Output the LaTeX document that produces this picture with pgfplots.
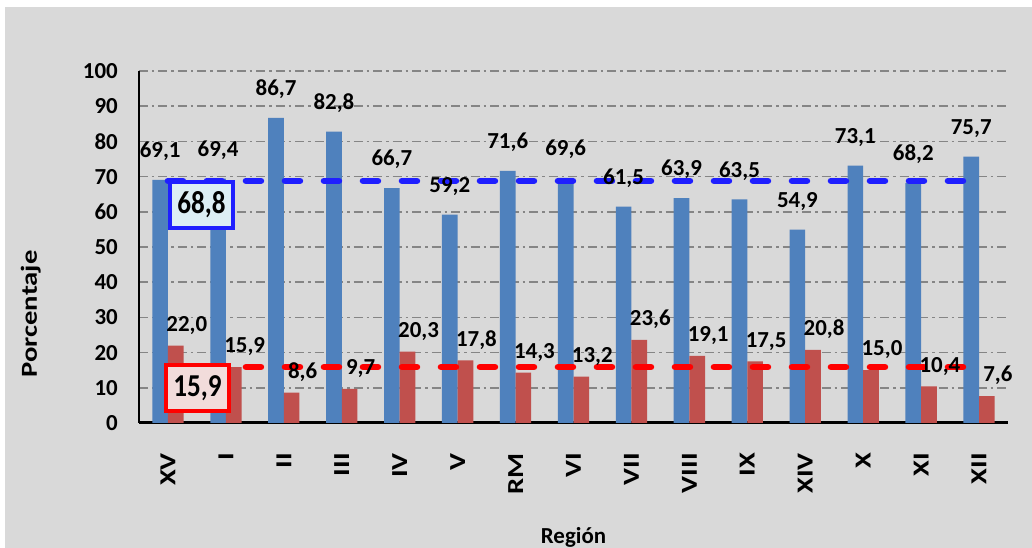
\documentclass[border=0pt]{standalone}
\usepackage{pgfplots}
\pgfplotsset{compat=1.18}
\usepackage{pgfplotstable}
\usepackage{fontspec}
\setmainfont{Carlito}
\newfontfamily\rotfont[FakeStretch=1.25]{Carlito}
\newfontfamily\boxfont[FakeStretch=0.85]{Carlito}
\definecolor{bg}{HTML}{D9D9D9}
\definecolor{barblue}{HTML}{4F81BD}
\definecolor{barred}{HTML}{C0504D}
\definecolor{lineblue}{HTML}{1F1FFF}
\definecolor{linered}{HTML}{FF0000}
\definecolor{boxblue}{HTML}{DCEEF4}
\definecolor{boxred}{HTML}{F2DCDB}
\definecolor{gridgray}{HTML}{858585}

\pgfplotstableread{
x v
0 69.1
1 69.4
2 86.7
3 82.8
4 66.7
5 59.2
6 71.6
7 69.6
8 61.5
9 63.9
10 63.5
11 54.9
12 73.1
13 68.2
14 75.7
}\bluedata

\pgfplotstableread{
x v
0 22.0
1 15.9
2 8.6
3 9.7
4 20.3
5 17.8
6 14.3
7 13.2
8 23.6
9 19.1
10 17.5
11 20.8
12 15.0
13 10.4
14 7.6
}\reddata

\newcommand{\lab}{\fontsize{23}{23}\selectfont\bfseries}

\begin{document}
\begin{tikzpicture}[x=1bp,y=1bp]
\fill[white] (-139,-125) rectangle (893,423);
\useasboundingbox (-139,-125) rectangle (893,423);
\fill[bg] (-134,-125) rectangle (893,416);
\begin{axis}[
  at={(0,0)}, anchor=south west,
  scale only axis, width=869bp, height=352bp,
  ybar, bar width=0.27,
  xmin=-0.5, xmax=14.5, ymin=0, ymax=100,
  ytick={0,10,...,100},
  xtick={0,...,14},
  xticklabels={XV,I,II,III,IV,V,RM,VI,VII,VIII,IX,XIV,X,XI,XII},
  axis x line*=bottom, axis y line*=left,
  x axis line style={black, line width=3bp},
  y axis line style={black, line width=2bp},
  major tick length=0pt,
  ymajorgrids,
  grid style={gridgray, line width=1.6bp, dash pattern=on 9bp off 4bp on 2.5bp off 4bp},
  /pgf/number format/assume math mode=true,
  yticklabel style={font=\lab, inner sep=0pt, xshift=-21bp},
  xticklabel style={font=\rotfont\fontsize{23}{23}\selectfont\bfseries, inner sep=0pt, yshift=-30bp, rotate=90, anchor=east},
  xlabel={Región}, ylabel={Porcentaje},
  every axis x label/.style={at={(axis description cs:0.5,-0.341)}, anchor=base, font=\lab},
  every axis y label/.style={at={(axis description cs:-0.1174,0.31)}, anchor=base, rotate=90, font=\rotfont\fontsize{23}{23}\selectfont\bfseries},
  clip=false,
]
\addplot[fill=barblue, draw=none, bar shift=-0.135] table[x=x,y=v] {\bluedata};
\addplot[fill=barred, draw=none, bar shift=0.135] table[x=x,y=v] {\reddata};
\addplot[sharp plot, lineblue, line width=6.5bp, line cap=round, dash pattern=on 15bp off 24bp, forget plot] coordinates {(0,68.8) (14,68.8)};
\addplot[sharp plot, linered, line width=6.5bp, line cap=round, dash pattern=on 15bp off 24bp, forget plot] coordinates {(0,15.9) (14,15.9)};
\addplot[fill=none, draw=none, bar shift=-0.135, forget plot,
  nodes near coords={\pgfmathprintnumber[fixed,fixed zerofill,precision=1,use comma]{\pgfplotspointmeta}},
  every node near coord/.append style={font=\lab, text=black, inner sep=0pt, anchor=south, yshift=19bp}]
  table[x=x,y=v] {\bluedata};
\addplot[fill=none, draw=none, bar shift=0.135, forget plot,
  nodes near coords={\pgfmathprintnumber[fixed,fixed zerofill,precision=1,use comma]{\pgfplotspointmeta}},
  every node near coord/.append style={font=\lab, text=black, inner sep=0pt, anchor=south, yshift=11bp, xshift=11bp}]
  table[x=x,y=v] {\reddata};
\node[draw=lineblue, line width=3.5bp, fill=boxblue, minimum width=63bp, minimum height=46bp, inner sep=0pt, font=\boxfont\fontsize{32}{32}\selectfont\bfseries] at (axis cs:0.579,61.9) {68,8};
\node[draw=linered, line width=3.5bp, fill=boxred, minimum width=63bp, minimum height=46bp, inner sep=0pt, font=\boxfont\fontsize{32}{32}\selectfont\bfseries] at (axis cs:0.51,9.94) {15,9};
\end{axis}
\end{tikzpicture}
\end{document}
